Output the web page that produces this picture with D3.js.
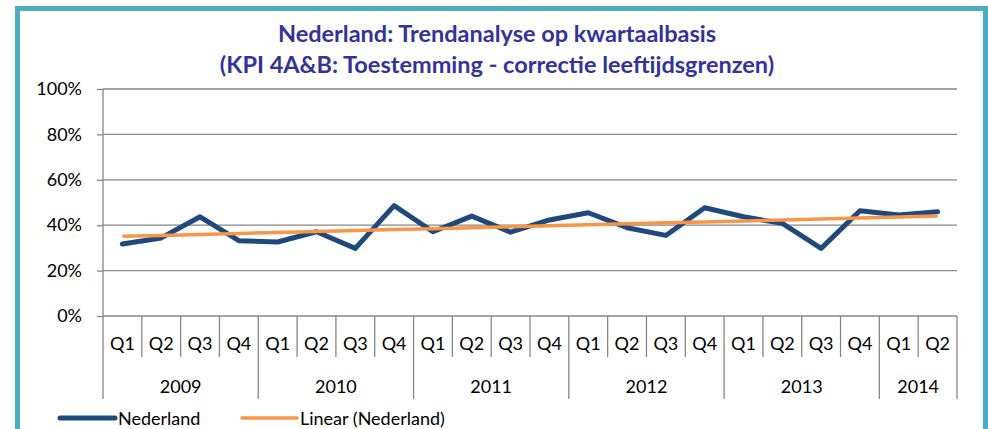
<!DOCTYPE html>
<html>
<head>
<meta charset="utf-8">
<script src="https://cdn.jsdelivr.net/npm/d3@7"></script>
<style>
  html, body { margin: 0; padding: 0; background: #fff; overflow: hidden; }
  svg { display: block; }
  text { font-family: Lato, "Open Sans", sans-serif; }
</style>
</head>
<body>
<div id="chart"></div>
<script>
const width = 988;
const height = 429;
const margin = {top: 89, right: 31, bottom: 113, left: 103};
const innerWidth = width - margin.left - margin.right;
const innerHeight = height - margin.top - margin.bottom;

// data
const years = ["2009", "2010", "2011", "2012", "2013", "2014"];
const quarters = ["Q1", "Q2", "Q3", "Q4"];
const quartersPerYear = [4, 4, 4, 4, 4, 2];
const nederland = [31.7, 34.4, 43.7, 33.2, 32.6, 37.1, 29.8, 48.6, 37.1, 44.0, 36.9,
                   42.3, 45.5, 38.9, 35.5, 47.7, 43.7, 40.8, 29.8, 46.4, 44.5, 45.9];
const yTicks = [0, 20, 40, 60, 80, 100];
const titleLines = ["Nederland: Trendanalyse op kwartaalbasis",
                    "(KPI 4A&B: Toestemming - correctie leeftijdsgrenzen)"];

// category list: one entry per quarter
const cats = [];
years.forEach((y, i) => {
    for (let q = 0; q < quartersPerYear[i]; q++) cats.push({year: y, q: quarters[q], key: y + "-" + quarters[q]});
});

// least squares trend, like Excel's linear trendline
const n = nederland.length;
const xm = d3.mean(d3.range(n));
const ym = d3.mean(nederland);
const slope = d3.sum(d3.range(n), i => (i - xm) * (nederland[i] - ym)) / d3.sum(d3.range(n), i => (i - xm) * (i - xm));
const trend = d3.range(n).map(i => ym + slope * (i - xm));

const svg = d3.select("#chart")
    .append("svg")
        .attr("width", width)
        .attr("height", height);

// outer frame (runs off the bottom of the picture)
svg.append("path")
    .attr("d", "M17.5,429 V8.5 H985.5 V429")
    .attr("fill", "none")
    .attr("stroke", "#4bacc6")
    .attr("stroke-width", 5);

svg.selectAll(".title")
    .data(titleLines)
    .join("text")
        .attr("class", "title")
        .attr("x", 497)
        .attr("y", (d, i) => 42 + i * 31)
        .attr("text-anchor", "middle")
        .attr("font-size", 23.5)
        .attr("font-weight", "bold")
        .attr("fill", "#333399")
        .text(d => d);

const g = svg.append("g")
    .attr("transform", "translate(" + margin.left + "," + margin.top + ")");

const xScale = d3.scaleBand()
    .domain(cats.map(d => d.key))
    .range([0, innerWidth]);

const yScale = d3.scaleLinear()
    .domain([0, 100])
    .range([innerHeight, 0]);

// y ticks and labels
g.append("g")
    .attr("class", "y-axis")
    .call(d3.axisLeft(yScale)
        .tickValues(yTicks)
        .tickSize(6)
        .tickFormat(d => d + "%"))
    .call(ax => ax.select(".domain").remove())
    .call(ax => ax.selectAll("line").attr("stroke", "#868686").attr("stroke-width", 1.3))
    .call(ax => ax.selectAll("text")
        .attr("x", -21)
        .attr("font-size", 18)
        .attr("fill", "#000"));

// gridlines
g.append("g")
    .selectAll("line")
    .data(yTicks)
    .join("line")
        .attr("x1", 0).attr("x2", innerWidth)
        .attr("y1", d => yScale(d)).attr("y2", d => yScale(d))
        .attr("stroke", "#868686")
        .attr("stroke-width", 1.3);

g.append("line")
    .attr("x1", 0).attr("x2", 0)
    .attr("y1", 0).attr("y2", innerHeight)
    .attr("stroke", "#868686")
    .attr("stroke-width", 1.3);

// two-level category axis
const xAxis = g.append("g")
    .attr("class", "x-axis")
    .attr("transform", "translate(0," + innerHeight + ")");

const yearStart = new Set();
let idx = 0;
quartersPerYear.forEach(c => { yearStart.add(idx); idx += c; });

xAxis.selectAll(".sep")
    .data(d3.range(cats.length + 1))
    .join("line")
        .attr("class", "sep")
        .attr("x1", i => i * xScale.step())
        .attr("x2", i => i * xScale.step())
        .attr("y1", 0)
        .attr("y2", i => (yearStart.has(i) || i === cats.length) ? 83 : 41)
        .attr("stroke", "#868686")
        .attr("stroke-width", 1.3);

xAxis.selectAll(".qlab")
    .data(cats)
    .join("text")
        .attr("class", "qlab")
        .attr("x", d => xScale(d.key) + xScale.bandwidth() / 2)
        .attr("y", 34)
        .attr("text-anchor", "middle")
        .attr("font-size", 18)
        .attr("fill", "#000")
        .text(d => d.q);

xAxis.selectAll(".ylab")
    .data(years)
    .join("text")
        .attr("class", "ylab")
        .attr("x", y => {
            const ks = cats.filter(c => c.year === y);
            return (xScale(ks[0].key) + xScale(ks[ks.length - 1].key) + xScale.bandwidth()) / 2;
        })
        .attr("y", 77)
        .attr("text-anchor", "middle")
        .attr("font-size", 18)
        .attr("fill", "#000")
        .text(d => d);

const line = d3.line()
    .x((d, i) => xScale(cats[i].key) + xScale.bandwidth() / 2)
    .y(d => yScale(d));

g.append("path")
    .datum(nederland)
    .attr("fill", "none")
    .attr("stroke", "#1f497d")
    .attr("stroke-width", 5)
    .attr("stroke-linejoin", "round")
    .attr("stroke-linecap", "round")
    .attr("d", line);

g.append("path")
    .datum(trend)
    .attr("fill", "none")
    .attr("stroke", "#f79646")
    .attr("stroke-width", 3.5)
    .attr("d", line);

// legend
const legend = svg.append("g").attr("transform", "translate(0,418)");
const items = [
    {label: "Nederland", color: "#1f497d", w: 5, x: 60},
    {label: "Linear (Nederland)", color: "#f79646", w: 3.5, x: 242}
];
items.forEach(it => {
    legend.append("line")
        .attr("x1", it.x).attr("x2", it.x + 55)
        .attr("y1", 0).attr("y2", 0)
        .attr("stroke", it.color)
        .attr("stroke-width", it.w)
        .attr("stroke-linecap", "round");
    legend.append("text")
        .attr("x", it.x + 58)
        .attr("y", 6.5)
        .attr("font-size", 18)
        .attr("fill", "#000")
        .text(it.label);
});
</script>
</body>
</html>
